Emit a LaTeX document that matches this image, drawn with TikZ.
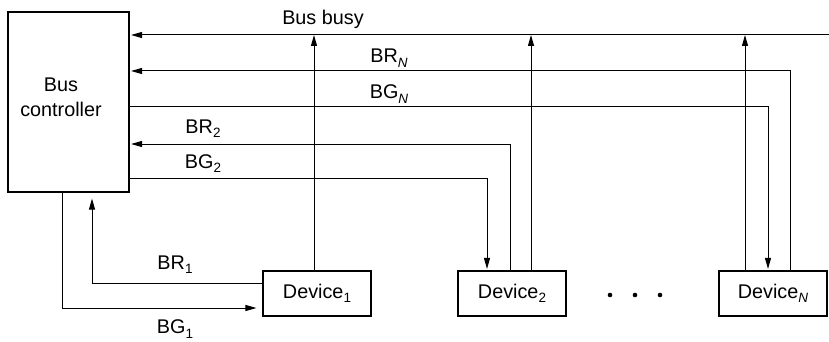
\documentclass[tikz,border=0pt]{standalone}
\usepackage{fontspec}
\setmainfont{Liberation Sans}
\usetikzlibrary{arrows.meta}
\newcommand{\mysub}[1]{\raisebox{-4.5pt}{\fontsize{13.5}{13.5}\selectfont #1}}
\begin{document}
\begin{tikzpicture}[x=1pt,y=-1pt,
  ln/.style={line width=1pt},
  arr/.style={ln,-{Triangle[length=11pt,width=6pt]}},
  box/.style={draw,line width=1.1pt,inner sep=0pt},
  dev/.style={box,minimum width=108pt,minimum height=45pt},
  lbl/.style={anchor=base,inner sep=0pt,font=\fontsize{19.8}{23}\selectfont}]
\useasboundingbox (0,0) rectangle (829,342);
% boxes
\node[box,minimum width=121pt,minimum height=180pt] (ctrl) at (68.5,102) {};
\node[lbl] (ctrltxt1) at (61,92) {Bus};
\node[lbl] (ctrltxt2) at (61,117) {controller};
\node[dev] (d1) at (317,293.5) {};
\node[dev] (d2) at (512,293.5) {};
\node[dev] (dN) at (773,293.5) {};
\node[lbl] (d1t) at (317,298) {Device\mysub{1}};
\node[lbl] (d2t) at (512,298) {Device\mysub{2}};
\node[lbl] (dNt) at (773,298) {Device\mysub{\itshape N}};
% dots
\fill (610,295) circle (2.3pt) (635,295) circle (2.3pt) (660,295) circle (2.3pt);
% rows and columns
\coordinate (bbR) at (829,35);
\coordinate (brN) at (0,71);
\coordinate (bgN) at (0,107);
\coordinate (br2) at (0,144);
\coordinate (bg2) at (0,178);
\coordinate (br1) at (0,283);
\coordinate (bg1) at (0,308);
\coordinate (c1) at (314,0);
\coordinate (c2a) at (487,0);
\coordinate (c2b) at (510,0);
\coordinate (c2c) at (531,0);
\coordinate (cNa) at (745,0);
\coordinate (cNb) at (768,0);
\coordinate (cNc) at (790,0);
\coordinate (x1r) at (92,0);
\coordinate (x1g) at (62,0);
% bus busy
\draw[arr,shorten >=1.5pt] (bbR) -- (ctrl.east |- bbR);
\draw[arr] (c1 |- d1.north) -- (c1 |- bbR);
\draw[arr] (c2c |- d2.north) -- (c2c |- bbR);
\draw[arr] (cNa |- dN.north) -- (cNa |- bbR);
% device N
\draw[arr,shorten >=1.5pt] (cNc |- dN.north) -- (cNc |- brN) -- (ctrl.east |- brN);
\draw[arr,shorten >=1.5pt] (ctrl.east |- bgN) -- (cNb |- bgN) -- (cNb |- dN.north);
% device 2
\draw[arr,shorten >=1.5pt] (c2b |- d2.north) -- (c2b |- br2) -- (ctrl.east |- br2);
\draw[arr,shorten >=1.5pt] (ctrl.east |- bg2) -- (c2a |- bg2) -- (c2a |- d2.north);
% device 1
\draw[arr,shorten >=6pt] (d1.west |- br1) -- (x1r |- br1) -- (x1r |- ctrl.south);
\draw[arr,shorten >=6pt] (x1g |- ctrl.south) -- (x1g |- bg1) -- (d1.west |- bg1);
% labels
\node[lbl] (lbb) at (323,25) {Bus busy};
\node[lbl] (lbrN) at (389,63) {BR\mysub{\itshape N}};
\node[lbl] (lbgN) at (389,99) {BG\mysub{\itshape N}};
\node[lbl] (lbr2) at (203,133) {BR\mysub{2}};
\node[lbl] (lbg2) at (203,168) {BG\mysub{2}};
\node[lbl] (lbr1) at (175,269) {BR\mysub{1}};
\node[lbl] (lbg1) at (175,333.5) {BG\mysub{1}};
\end{tikzpicture}
\end{document}
